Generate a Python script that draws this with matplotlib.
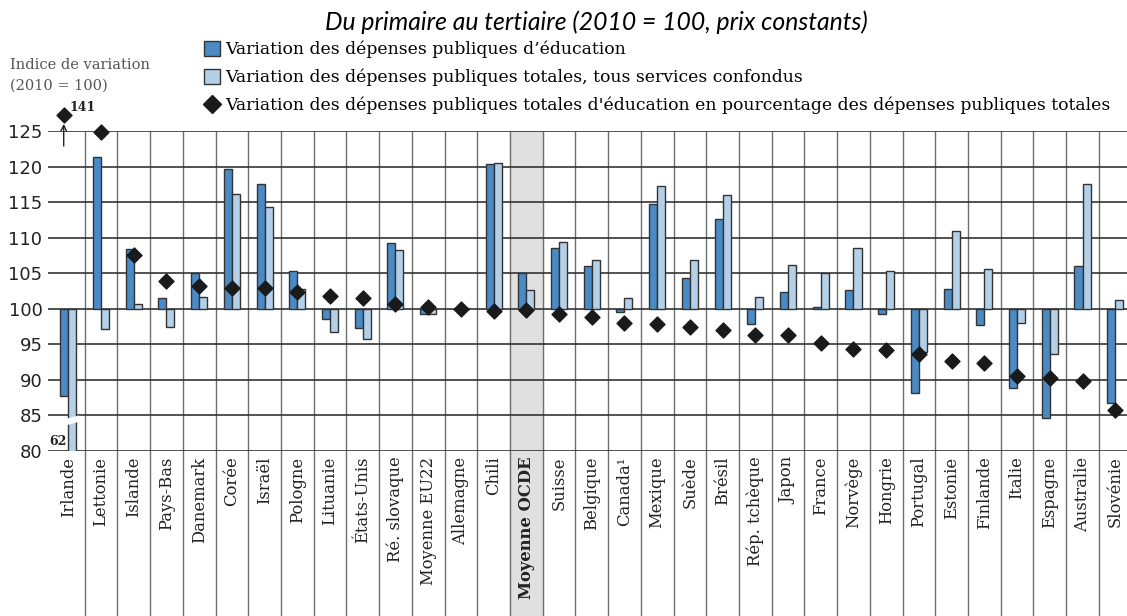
"""Variation des dépenses publiques d'éducation, 2010 = 100."""
import matplotlib

matplotlib.use("Agg")
import matplotlib.pyplot as plt
from matplotlib.lines import Line2D
from matplotlib.patches import Patch, Polygon

countries = [
    "Irlande", "Lettonie", "Islande", "Pays-Bas", "Danemark", "Corée", "Israël",
    "Pologne", "Lituanie", "États-Unis", "Ré. slovaque", "Moyenne EU22",
    "Allemagne", "Chili", "Moyenne OCDE", "Suisse", "Belgique", "Canada¹",
    "Mexique", "Suède", "Brésil", "Rép. tchèque", "Japon", "France", "Norvège",
    "Hongrie", "Portugal", "Estonie", "Finlande", "Italie", "Espagne",
    "Australie", "Slovénie",
]
educ = [
    87.7, 121.4, 108.4, 101.5, 105.1, 119.7, 117.6, 105.3, 98.6, 97.3, 109.2,
    99.2, 99.9, 120.3, 105.1, 108.6, 106.0, 99.6, 114.8, 104.3, 112.6, 97.9,
    102.4, 100.2, 102.6, 99.2, 88.1, 102.8, 97.7, 88.8, 84.7, 106.0, 86.8,
]
total = [
    62.0, 97.1, 100.7, 97.5, 101.7, 116.2, 114.3, 102.8, 96.7, 95.8, 108.3,
    99.3, 100.1, 120.5, 102.6, 109.4, 106.9, 101.5, 117.3, 106.9, 116.0, 101.6,
    106.2, 105.1, 108.6, 105.3, 93.9, 110.9, 105.6, 98.0, 93.7, 117.6, 101.3,
]
share = [
    141.0, 124.9, 107.5, 103.9, 103.2, 102.9, 102.9, 102.3, 101.8, 101.5, 100.7,
    100.3, 100.0, 99.7, 99.8, 99.2, 98.9, 98.0, 97.8, 97.5, 97.0, 96.3, 96.3,
    95.2, 94.4, 94.2, 93.6, 92.6, 92.4, 90.6, 90.3, 89.9, 85.7,
]
yticks = [80, 85, 90, 95, 100, 105, 110, 115, 120, 125]
highlight = "Moyenne OCDE"

DARK = "#4a8bc6"
LIGHT = "#b4d0e8"
EDGE = "#333333"
SERIF = "DejaVu Serif"

fig = plt.figure(figsize=(11.27, 6.16), dpi=100)
ax = fig.add_axes([48 / 1127, 1 - 451 / 616, 1079 / 1127, 320 / 616])
ax.set_xlim(-0.62, 32.36)
ax.set_ylim(80, 125)
for s in ax.spines.values():
    s.set_visible(False)

x = list(range(len(countries)))
w = 0.245
ax.bar([i - w / 2 for i in x], [v - 100 for v in educ], w, bottom=100,
       color=DARK, edgecolor=EDGE, linewidth=1, zorder=3)
ax.bar([i + w / 2 for i in x], [v - 100 for v in total], w, bottom=100,
       color=LIGHT, edgecolor=EDGE, linewidth=1, zorder=3)

# broken bar for Irlande (62)
bx = x[0] + w / 2
ax.add_patch(Polygon([(bx - 0.2, 83.6), (bx + 0.2, 84.1), (bx + 0.2, 85.0), (bx - 0.2, 84.5)],
                     closed=True, facecolor="white", edgecolor="none", zorder=4))
ax.text(bx - w / 2 - 0.06, 80.4, "62", ha="right", va="bottom", fontsize=9,
        fontweight="bold", family=SERIF, color="#222222")

# diamonds, values out of range pinned just above the frame
cap = 127.2
dx = [i - 0.14 if v > cap else i for i, v in zip(x, share)]
dy = [min(v, cap) for v in share]
ax.scatter(dx, dy, marker="D", s=58, color="#1a1a1a", zorder=5, clip_on=False)
for xi, v in zip(dx, share):
    if v > cap:
        ax.annotate("", xy=(xi, cap - 0.8), xytext=(xi, 122.5),
                    arrowprops=dict(arrowstyle="->", color="#222222", lw=1),
                    annotation_clip=False)
        ax.text(xi + 0.18, cap + 0.2, f"{v:.0f}", ha="left", va="bottom", fontsize=9,
                fontweight="bold", family=SERIF, color="#222222")

# grid
for yv in yticks:
    ax.axhline(yv, color=EDGE, linewidth=1.2, zorder=2)
ax.vlines([i + 0.5 for i in x], -0.516, 1, transform=ax.get_xaxis_transform(),
          color="#6e6e6e", linewidth=1, clip_on=False, zorder=1)
hi = countries.index(highlight)
ax.axvspan(hi - 0.5, hi + 0.5, ymin=-0.516, ymax=1, color="#e0e0e0",
           clip_on=False, zorder=0)

ax.set_yticks(yticks)
ax.tick_params(axis="y", length=0, pad=4, labelsize=13, labelcolor="#222222")
ax.set_xticks(x)
ax.set_xticklabels(countries, rotation=90, family=SERIF, fontsize=11.8, color="#222222")
ax.tick_params(axis="x", length=0, pad=4)
for lbl in ax.get_xticklabels():
    if lbl.get_text() == highlight:
        lbl.set_fontweight("bold")

fig.text(10 / 1127, 1 - 75 / 616, "Indice de variation\n(2010 = 100)", family=SERIF,
         fontsize=10.5, color="#555555", va="center", ha="left", linespacing=1.6)

fig.text(596 / 1127, 1 - 22 / 616, "Du primaire au tertiaire (2010 = 100, prix constants)",
         ha="center", va="center", fontsize=17.8, style="italic", family="Lato")

handles = [
    Patch(facecolor=DARK, edgecolor=EDGE),
    Patch(facecolor=LIGHT, edgecolor=EDGE),
    Line2D([], [], marker="D", color="#1a1a1a", linestyle="none", markersize=9),
]
labels = [
    "Variation des dépenses publiques d’éducation",
    "Variation des dépenses publiques totales, tous services confondus",
    "Variation des dépenses publiques totales d'éducation en pourcentage des dépenses publiques totales",
]
fig.legend(handles, labels, loc="upper left", bbox_to_anchor=(204 / 1127, 1 - 41 / 616),
           frameon=False, prop={"family": SERIF, "size": 12.4}, handlelength=0.9,
           handleheight=0.9, handletextpad=0.35, labelspacing=0.6, borderpad=0,
           borderaxespad=0)

fig.savefig("out.png", dpi=100)
